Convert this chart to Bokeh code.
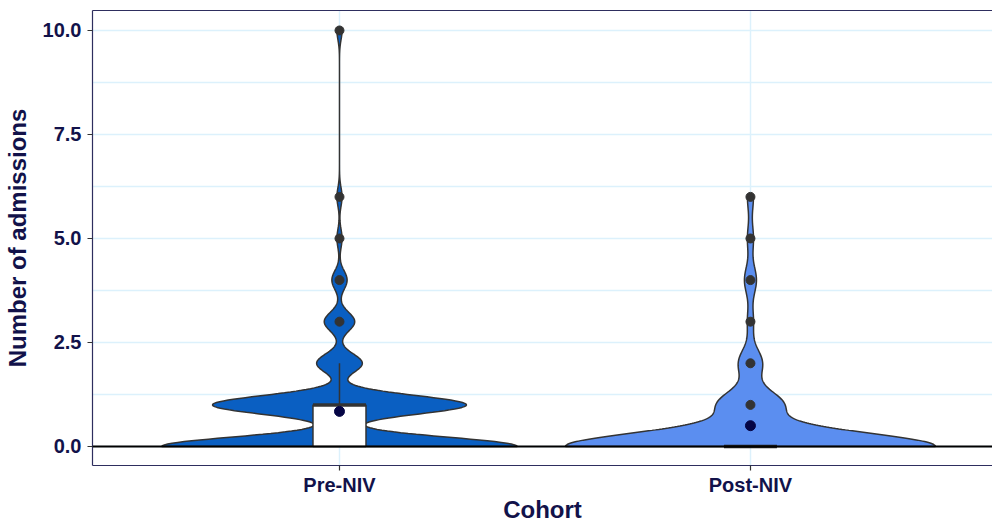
import numpy as np
from bokeh.plotting import figure
from bokeh.models import FixedTicker, LinearAxis, Span, Range1d
from bokeh.embed import file_html
from bokeh.resources import INLINE

# ---- data ----
cohorts = ["Pre-NIV", "Post-NIV"]
admission_values = [0, 1, 2, 3, 4, 5, 6, 10]
pre_counts = [70, 50, 9, 6, 3, 1, 1, 1]
post_counts = [62, 11, 4, 1, 2, 1, 1, 0]
y_ticks = [0, 2.5, 5, 7.5, 10]
y_minor = [1.25, 3.75, 6.25, 8.75]
y_tick_labels = ["0.0", "2.5", "5.0", "7.5", "10.0"]

# ---- style ----
bandwidths = [0.225, 0.33]
fills = ["#0a5fc2", "#5b8ef0"]
NAVY = "#12124a"
FRAME = "#2e2e5e"
GRID = "#dcf1fc"
OUTLINE = "#333333"
FONT = "Liberation Sans"
VIOLIN_HALF = 0.45
BOX_HALF = 0.0645

p = figure(width=992, height=525, output_backend="svg", toolbar_location=None,
           x_range=Range1d(0.399, 2.589), y_range=Range1d(-0.457, 10.48),
           min_border_left=92, min_border_right=0, min_border_top=10, min_border_bottom=60)
p.outline_line_color = None
p.background_fill_color = "white"

# grids
p.ygrid.ticker = FixedTicker(ticks=y_ticks, minor_ticks=y_minor)
p.ygrid.grid_line_color = GRID
p.ygrid.grid_line_width = 1.5
p.ygrid.minor_grid_line_color = GRID
p.ygrid.minor_grid_line_width = 1.5
p.xgrid.ticker = FixedTicker(ticks=[1, 2])
p.xgrid.grid_line_color = GRID
p.xgrid.grid_line_width = 1.5

# axes
for ax in (p.xaxis[0], p.yaxis[0]):
    ax.axis_line_color = FRAME
    ax.axis_line_width = 1.2
    ax.major_tick_line_color = OUTLINE
    ax.major_tick_line_width = 1.2
    ax.major_tick_out = 5
    ax.major_tick_in = 0
    ax.minor_tick_line_color = None
    ax.major_label_text_font = FONT
    ax.major_label_text_font_style = "bold"
    ax.major_label_text_font_size = "20px"
    ax.major_label_text_color = NAVY
    ax.axis_label_text_font = FONT
    ax.axis_label_text_font_style = "bold"
    ax.axis_label_text_font_size = "24px"
    ax.axis_label_text_color = NAVY

p.yaxis.ticker = FixedTicker(ticks=y_ticks)
p.yaxis.major_label_overrides = {t: l for t, l in zip(y_ticks, y_tick_labels)}
p.yaxis.axis_label = "Number of admissions"
p.yaxis.major_label_standoff = 6
p.yaxis.axis_label_standoff = 9

p.xaxis.ticker = FixedTicker(ticks=[1, 2])
p.xaxis.major_label_overrides = {i + 1: c for i, c in enumerate(cohorts)}
p.xaxis.axis_label = "Cohort"
p.xaxis.major_label_standoff = 3
p.xaxis.axis_label_standoff = -3

top = LinearAxis(ticker=FixedTicker(ticks=[]), axis_line_color=FRAME, axis_line_width=1.2,
                 major_tick_out=0, minor_tick_out=0, major_label_text_font_size="0px",
                 major_label_standoff=0)
p.add_layout(top, "above")

# ---- densities ----
all_counts = [pre_counts, post_counts]
vals = np.array(admission_values, dtype=float)
dens_list = []
for counts, bw in zip(all_counts, bandwidths):
    data = np.repeat(vals, counts)
    grid = np.linspace(data.min(), data.max(), 512)
    d = np.exp(-0.5 * ((grid[:, None] - data[None, :]) / bw) ** 2).sum(axis=1)
    d = d / (len(data) * bw * np.sqrt(2 * np.pi))
    dens_list.append((grid, d, data))
dmax = max(d.max() for _, d, _ in dens_list)

for i, (grid, d, data) in enumerate(dens_list):
    c = i + 1
    w = d / dmax * VIOLIN_HALF
    xs = np.concatenate([c + w, (c - w)[::-1]])
    ys = np.concatenate([grid, grid[::-1]])
    p.patch(xs, ys, fill_color=fills[i], line_color=OUTLINE, line_width=1.5)

# ---- boxes ----
for i, (grid, d, data) in enumerate(dens_list):
    c = i + 1
    q1, med, q3 = np.percentile(data, [25, 50, 75])
    iqr = q3 - q1
    upper = data[data <= q3 + 1.5 * iqr].max()
    lower = data[data >= q1 - 1.5 * iqr].min()
    if q3 > q1:
        p.quad(left=c - BOX_HALF, right=c + BOX_HALF, bottom=q1, top=q3,
               fill_color="white", line_color=OUTLINE, line_width=1.5)
    if upper > q3:
        p.segment(x0=c, y0=q3, x1=c, y1=upper, line_color=OUTLINE, line_width=1.5)
    if lower < q1:
        p.segment(x0=c, y0=q1, x1=c, y1=lower, line_color=OUTLINE, line_width=1.5)
    p.segment(x0=c - BOX_HALF, y0=med, x1=c + BOX_HALF, y1=med,
              line_color="#222222" if iqr == 0 else OUTLINE, line_width=3.5)
    out = np.unique(data[(data > upper) | (data < lower)])
    p.scatter(x=[c] * len(out), y=out, size=9, fill_color=OUTLINE, line_color=OUTLINE)

# zero line
p.add_layout(Span(location=0, dimension="width", line_color="black", line_width=2))

# means
for i, (grid, d, data) in enumerate(dens_list):
    p.scatter(x=[i + 1], y=[data.mean()], size=10, fill_color="#050545", line_color="#050545")

open("out.html", "w").write(file_html(p, INLINE))
